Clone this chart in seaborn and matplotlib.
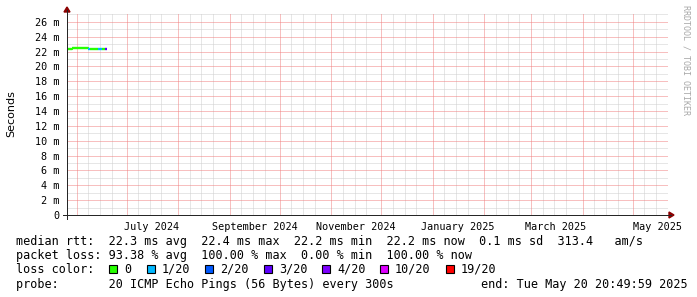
import matplotlib
matplotlib.use("Agg")
import numpy as np
import pandas as pd
import matplotlib.pyplot as plt
import seaborn as sns
from matplotlib.patches import Rectangle, Polygon
from matplotlib.lines import Line2D

# ---------------- data ----------------
data_start = "2024-05-26"
rtt_median_ms = [22.3, 22.3, 22.3,
                 22.42, 22.42, 22.42, 22.42, 22.42, 22.42, 22.42, 22.42, 22.42, 22.42,
                 22.3, 22.3, 22.3, 22.3, 22.3, 22.3, 22.3, 22.3, 22.3, 22.3, 22.3]
loss_count = [0, 0, 0,
              0, 0, 0, 0, 0, 0, 0, 0, 0, 0,
              1, 0, 0, 0, 0, 0, 1, 1, 0, 0, 3]
loss_levels = ["0", "1/20", "2/20", "3/20", "4/20", "10/20", "19/20"]
loss_values = [0, 1, 2, 3, 4, 10, 19]
loss_colors = ["#26ff00", "#00b8ff", "#0059ff", "#5e00ff", "#7e00ff", "#dd00ff", "#ff0000"]
x_tick_labels = ["July 2024", "September 2024", "November 2024",
                 "January 2025", "March 2025", "May 2025"]
y_ticks = list(range(0, 27, 2))
y_tick_labels = ["0"] + [f"{v} m" for v in y_ticks[1:]]
legend_lines = [
    "median rtt:  22.3 ms avg  22.4 ms max  22.2 ms min  22.2 ms now  0.1 ms sd  313.4   am/s",
    "packet loss: 93.38 % avg  100.00 % max  0.00 % min  100.00 % now",
    "loss color:",
    "probe:       20 ICMP Echo Pings (56 Bytes) every 300s",
]
end_text = "end: Tue May 20 20:49:59 2025"
view_start = "2024-05-26 06:00"
view_end = "2025-05-22 06:00"

# ---------------- figure ----------------
W, H = 697, 297
sns.set_style("white")
plt.rcParams["font.family"] = ["DejaVu Sans Mono"]
plt.rcParams["text.color"] = "black"
plt.rcParams["xtick.labelcolor"] = "black"
plt.rcParams["ytick.labelcolor"] = "black"

fig = plt.figure(figsize=(W / 100, H / 100), dpi=100, facecolor="white")

def fx(x):
    return x / W

def fy(y):
    return 1 - y / H

L, R, T, B = 67, 668, 13, 215
ax = fig.add_axes([fx(L), fy(B), (R - L) / W, (B - T) / H])
ax.set_facecolor("white")

t0 = pd.Timestamp(view_start)
t1 = pd.Timestamp(view_end)
ymax = 27.2
ax.set_xlim(t0, t1)
ax.set_ylim(0, ymax)

# grid
month_starts = pd.date_range("2024-06-01", "2025-05-01", freq="MS")
minor_days = [d + pd.Timedelta(days=k)
              for d in pd.date_range("2024-05-01", "2025-05-01", freq="MS")
              for k in (7, 14, 21)]
minor_days = [d for d in minor_days if t0 < d < t1]
gkw = dict(linestyles=(0, (1, 1)), linewidth=0.72, antialiased=True, snap=True, zorder=0)
ax.vlines(minor_days, 0, ymax, colors="#cfcfcf", **gkw)
ax.hlines([v for v in range(1, 28) if v % 2 == 1], t0, t1, colors="#cfcfcf", **gkw)
ax.vlines(month_starts, 0, ymax, colors="#f08080", **gkw)
ax.hlines(y_ticks[1:], t0, t1, colors="#f08080", **gkw)

# data line (step segments coloured by loss)
dates = pd.date_range(data_start, periods=len(rtt_median_ms), freq="D")
pal = dict(zip(loss_levels, loss_colors))
lab = {v: l for v, l in zip(loss_values, loss_levels)}
rows = []
n = len(rtt_median_ms)
for i in range(n):
    ta = dates[i]
    tb = ta + pd.Timedelta(days=1)
    lv = lab[loss_count[i]]
    rows.append((i, ta, rtt_median_ms[i], lv))
    rows.append((i, tb, rtt_median_ms[i], lv))
    if i + 1 < n:
        rows.append((i, tb, rtt_median_ms[i + 1], lv))
df = pd.DataFrame(rows, columns=["seg", "time", "rtt", "loss"])
sns.lineplot(data=df, x="time", y="rtt", hue="loss", units="seg", estimator=None,
             sort=False, palette=pal, legend=False, linewidth=1.7, ax=ax, zorder=3)
for ln in ax.lines:
    ln.set_solid_capstyle("butt")

# ticks
for s in ax.spines.values():
    s.set_visible(False)
label_pos = [pd.Timestamp(d) + pd.Timedelta(days=15)
             for d in pd.date_range("2024-07-01", "2025-05-01", freq="2MS")]
ax.set_xticks(label_pos)
ax.set_xticklabels(x_tick_labels, fontsize=7.3)
ax.set_xticks(month_starts, minor=True)
ax.tick_params(axis="x", which="major", length=0, pad=5)
ax.tick_params(axis="x", which="minor", length=2.5, width=0.72, color="#262626", direction="out")
ax.set_yticks(y_ticks)
ax.set_yticklabels(y_tick_labels, fontsize=7.3)
ax.tick_params(axis="y", which="major", length=2.5, width=0.72, color="#262626",
               direction="out", pad=3)
ax.set_xlabel("")
ax.set_ylabel("")

# axes lines & arrows
axc = "#262626"
fig.add_artist(Line2D([fx(L), fx(L)], [fy(219), fy(10)], color=axc, lw=0.72,
                      transform=fig.transFigure, antialiased=False))
fig.add_artist(Line2D([fx(63), fx(671)], [fy(B), fy(B)], color=axc, lw=0.72,
                      transform=fig.transFigure, antialiased=False))
arc = "#8b0000"
fig.add_artist(Polygon([(fx(64), fy(12)), (fx(70), fy(12)), (fx(67), fy(7))],
                       closed=True, color=arc, transform=fig.transFigure))
fig.add_artist(Polygon([(fx(669), fy(212)), (fx(669), fy(218)), (fx(674), fy(215))],
                       closed=True, color=arc, transform=fig.transFigure))

# y label
fig.text(fx(11), fy(114), "Seconds", rotation=90, ha="center", va="center",
         fontsize=8, family=["DejaVu Sans"])

# watermark
fig.text(fx(686), fy(60), "RRDTOOL / TOBI OETIKER", rotation=270, ha="center",
         va="center", fontsize=6, color="#a8a8a8")

# legend text
base = [245, 259, 273, 288]
for txt, yb in zip(legend_lines, base):
    fig.text(fx(16), fy(yb), txt, ha="left", va="baseline", fontsize=8.5)
fig.text(fx(481), fy(base[3]), end_text, ha="left", va="baseline", fontsize=8.5)

sq_x = [109, 147, 205, 264, 322, 380, 446]
for xs, col, lv in zip(sq_x, loss_colors, loss_levels):
    fig.add_artist(Rectangle((fx(xs), fy(273)), 8 / W, 8 / H, facecolor=col,
                             edgecolor="black", linewidth=0.8, transform=fig.transFigure))
    fig.text(fx(xs + 15), fy(base[2]), lv, ha="left", va="baseline", fontsize=8.5)

fig.savefig("out.png", dpi=100, facecolor="white")
